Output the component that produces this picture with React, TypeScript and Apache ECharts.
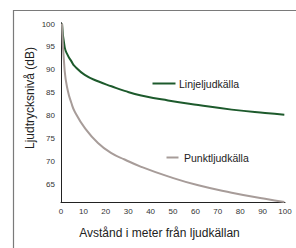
import React, { useEffect, useRef } from "react";
import * as echarts from "echarts";

const distances = [0.45, 1.65, 3.1, 4.6, 6.1, 10.6, 16.5, 22.5, 28.4, 35.8, 47.8, 61.3, 76.2, 91.1, 99.7];
const lineSource = [100.1, 94.9, 93.1, 91.9, 90.8, 88.9, 87.5, 86.4, 85.4, 84.4, 83.3, 82.3, 81.3, 80.55, 80.2];
const pointSource = [100.1, 89.7, 85.3, 82.8, 80.9, 77.3, 74.0, 71.8, 70.4, 68.8, 66.7, 64.75, 63.15, 61.8, 61.1];
const yTicks = [65, 70, 75, 80, 85, 90, 95, 100];
const seriesNames = ["Linjeljudkälla", "Punktljudkälla"];
const yTitle = "Ljudtrycksnivå (dB)";
const xTitle = "Avstånd i meter från ljudkällan";

const GREEN = "#1d5a2c";
const GRAY = "#a79c99";
const FONT = "Liberation Sans, Arial, sans-serif";

export default function App() {
  const ref = useRef<HTMLDivElement>(null);
  useEffect(() => {
    const chart = echarts.init(ref.current!, null, { renderer: "svg" });
    chart.setOption({
      animation: false,
      backgroundColor: "#fff",
      grid: { left: 61, right: 11, top: 22.7, bottom: 45.5 },
      xAxis: {
        type: "value",
        min: 0,
        max: 100,
        interval: 10,
        axisLine: { show: true, lineStyle: { color: "#222", width: 1 } },
        axisTick: { show: false },
        splitLine: { show: false },
        axisLabel: { color: "#333", fontSize: 8, fontFamily: FONT, margin: 5, showMaxLabel: true, showMinLabel: true },
      },
      yAxis: {
        type: "value",
        min: 61,
        max: 100.3,
        axisLine: { show: true, lineStyle: { color: "#222", width: 1 } },
        axisTick: { show: false },
        splitLine: { show: false },
        axisLabel: { color: "#333", fontSize: 8, fontFamily: FONT, margin: 6, customValues: yTicks },
      },
      series: [
        {
          name: seriesNames[0],
          type: "line",
          data: distances.map((d, i) => [d, lineSource[i]]),
          showSymbol: false,
          smooth: 0.5,
          lineStyle: { color: GREEN, width: 2 },
          clip: false,
        },
        {
          name: seriesNames[1],
          type: "line",
          data: distances.map((d, i) => [d, pointSource[i]]),
          showSymbol: false,
          smooth: 0.5,
          lineStyle: { color: GRAY, width: 2 },
          clip: false,
        },
      ],
      graphic: [
        { type: "rect", shape: { x: 13.5, y: 10.5, width: 400, height: 400 }, style: { fill: "none", stroke: "#7a7a7a", lineWidth: 1.2 }, silent: true },
        { type: "line", shape: { x1: 152.5, y1: 83.5, x2: 175.5, y2: 83.5 }, style: { stroke: GREEN, lineWidth: 2 } },
        { type: "text", x: 179, y: 83.5, style: { text: seriesNames[0], fill: "#222", fontSize: 10.5, fontFamily: FONT, verticalAlign: "middle", align: "left" } },
        { type: "line", shape: { x1: 166.5, y1: 157.5, x2: 178.5, y2: 157.5 }, style: { stroke: GRAY, lineWidth: 2 } },
        { type: "text", x: 184, y: 157.5, style: { text: seriesNames[1], fill: "#222", fontSize: 10.5, fontFamily: FONT, verticalAlign: "middle", align: "left" } },
        { type: "text", x: 159.5, y: 233, style: { text: xTitle, fill: "#222", fontSize: 12, fontFamily: FONT, verticalAlign: "middle", align: "center" } },
        { type: "text", x: 30, y: 98, rotation: Math.PI / 2, style: { text: yTitle, fill: "#222", fontSize: 12, fontFamily: FONT, verticalAlign: "middle", align: "center" } },
      ],
    });
    return () => chart.dispose();
  }, []);
  return <div ref={ref} style={{ width: 296, height: 248, position: "absolute", left: 0, top: 0 }} />;
}
